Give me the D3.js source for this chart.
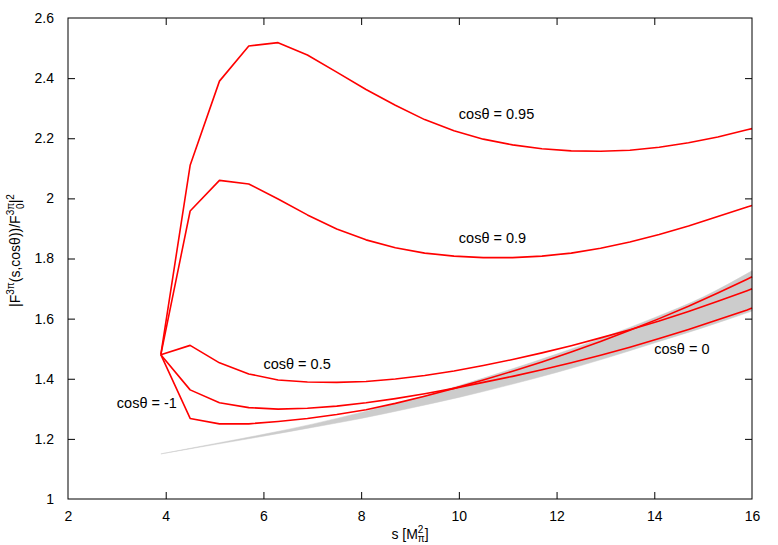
<!DOCTYPE html>
<html>
<head>
<meta charset="utf-8">
<script src="https://cdn.jsdelivr.net/npm/d3@7"></script>
<style>
  body { margin: 0; background: #fff; }
  svg { display: block; font-family: 'Liberation Sans', Arial, sans-serif; }
  .tick text { font-size: 14px; fill: #000; }
  .tick line { stroke: #000; }
  .curve-label { font-size: 14.5px; fill: #000; }
</style>
</head>
<body>
<svg width="778" height="545"></svg>
<script>
// s grid shared by all curves (in units of M_pi^2)
const sValues = [3.9, 4.5, 5.1, 5.7, 6.3, 6.9, 7.5, 8.1, 8.7, 9.3, 9.9, 10.5,
  11.1, 11.7, 12.3, 12.9, 13.5, 14.1, 14.7, 15.3, 15.9, 16];

const cos095 = [1.48, 2.11, 2.39, 2.507, 2.518, 2.477, 2.42, 2.362, 2.31, 2.262, 2.225, 2.197,
  2.178, 2.165, 2.158, 2.157, 2.160, 2.170, 2.185, 2.204, 2.228, 2.232];
const cos09 = [1.48, 1.958, 2.060, 2.048, 1.998, 1.945, 1.898, 1.862, 1.836, 1.818, 1.808, 1.803,
  1.803, 1.808, 1.818, 1.834, 1.855, 1.880, 1.908, 1.940, 1.971, 1.976];
const cos05 = [1.48, 1.511, 1.453, 1.416, 1.396, 1.389, 1.388, 1.391, 1.399, 1.411, 1.426, 1.444,
  1.464, 1.486, 1.510, 1.536, 1.563, 1.592, 1.624, 1.658, 1.693, 1.699];
const cos0 = [1.48, 1.363, 1.320, 1.304, 1.299, 1.302, 1.309, 1.320, 1.334, 1.350, 1.368, 1.388,
  1.408, 1.430, 1.453, 1.478, 1.505, 1.534, 1.564, 1.596, 1.629, 1.635];
const cosM1 = [1.48, 1.268, 1.250, 1.250, 1.258, 1.268, 1.281, 1.297, 1.318, 1.342, 1.368, 1.396,
  1.425, 1.456, 1.489, 1.524, 1.561, 1.600, 1.641, 1.685, 1.731, 1.739];

// grey error band
const bandS = [3.9, 5, 6, 7, 8, 9, 10, 11, 12, 13, 14, 15, 16];
const bandLow = [1.150, 1.181, 1.209, 1.238, 1.268, 1.302, 1.338, 1.378, 1.421, 1.468, 1.519, 1.570, 1.625];
const bandHigh = [1.150, 1.184, 1.215, 1.249, 1.288, 1.330, 1.377, 1.428, 1.482, 1.540, 1.603, 1.672, 1.759];

const labelTexts = ['cosθ = 0.95', 'cosθ = 0.9', 'cosθ = 0.5', 'cosθ = -1', 'cosθ = 0'];
const labelS = [10, 10, 6, 3, 14];
const labelV = [2.28, 1.87, 1.45, 1.32, 1.5];

const xTicks = [2, 4, 6, 8, 10, 12, 14, 16];
const yTicks = [1, 1.2, 1.4, 1.6, 1.8, 2, 2.2, 2.4, 2.6];

(function (d3) {
  'use strict';
  const svg = d3.select('svg');
  const width = +svg.attr('width');
  const height = +svg.attr('height');

  const margin = { top: 18, right: 26, bottom: 46, left: 68 };
  const innerWidth = width - margin.left - margin.right;
  const innerHeight = height - margin.top - margin.bottom;

  const xScale = d3.scaleLinear().domain([2, 16]).range([0, innerWidth]);
  const yScale = d3.scaleLinear().domain([1, 2.6]).range([innerHeight, 0]);

  const g = svg.append('g')
    .attr('transform', `translate(${margin.left},${margin.top})`);

  // band
  const band = bandS.map((s, i) => ({ s, lo: bandLow[i], hi: bandHigh[i] }));
  g.append('path')
    .datum(band)
    .attr('fill', '#cccccc')
    .attr('stroke', '#cccccc')
    .attr('stroke-width', 0.5)
    .attr('d', d3.area()
      .curve(d3.curveMonotoneX)
      .x(d => xScale(d.s))
      .y0(d => yScale(d.lo))
      .y1(d => yScale(d.hi)));

  // curves
  const series = [cos095, cos09, cos05, cos0, cosM1];
  const line = d3.line()
    .x(d => xScale(d[0]))
    .y(d => yScale(d[1]));
  g.selectAll('.curve').data(series)
    .enter().append('path')
      .attr('class', 'curve')
      .attr('fill', 'none')
      .attr('stroke', '#ff0000')
      .attr('stroke-width', 1.6)
      .attr('stroke-linejoin', 'round')
      .attr('d', vals => line(sValues.map((s, i) => [s, vals[i]])));

  // axes, ticks pointing inward on all four sides
  const fmt = d => String(+d.toFixed(1));
  const xAxisG = g.append('g')
    .attr('transform', `translate(0,${innerHeight})`)
    .call(d3.axisBottom(xScale).tickValues(xTicks).tickFormat(fmt)
      .tickSizeInner(-7).tickSizeOuter(0).tickPadding(12));
  const yAxisG = g.append('g')
    .call(d3.axisLeft(yScale).tickValues(yTicks).tickFormat(fmt)
      .tickSizeInner(-7).tickSizeOuter(0).tickPadding(14));
  const topG = g.append('g')
    .call(d3.axisTop(xScale).tickValues(xTicks).tickFormat('')
      .tickSizeInner(-7).tickSizeOuter(0));
  const rightG = g.append('g')
    .attr('transform', `translate(${innerWidth},0)`)
    .call(d3.axisRight(yScale).tickValues(yTicks).tickFormat('')
      .tickSizeInner(-7).tickSizeOuter(0));
  [xAxisG, yAxisG, topG, rightG].forEach(a => {
    a.select('.domain').remove();
    a.selectAll('text').attr('font-family', null).attr('font-size', null);
  });
  // drop ticks sitting on the corners
  xAxisG.selectAll('.tick line').filter(d => d === 2 || d === 16).remove();
  topG.selectAll('.tick line').filter(d => d === 2 || d === 16).remove();
  yAxisG.selectAll('.tick line').filter(d => d === 1 || d === 2.6).remove();
  rightG.selectAll('.tick line').filter(d => d === 1 || d === 2.6).remove();

  g.append('rect')
    .attr('width', innerWidth)
    .attr('height', innerHeight)
    .attr('fill', 'none')
    .attr('stroke', '#000')
    .attr('stroke-width', 1);

  // curve labels
  g.selectAll('.curve-label').data(labelTexts)
    .enter().append('text')
      .attr('class', 'curve-label')
      .attr('x', (d, i) => xScale(labelS[i]))
      .attr('y', (d, i) => yScale(labelV[i]))
      .attr('dy', '0.35em')
      .text(d => d);

  // x axis title: s [M^2_pi]
  const xt = svg.append('text')
    .attr('x', margin.left + innerWidth / 2)
    .attr('y', 539)
    .attr('text-anchor', 'middle')
    .attr('font-size', 14);
  xt.append('tspan').text('s [M');
  xt.append('tspan').attr('font-size', 10).attr('dy', -6).text('2');
  xt.append('tspan').attr('font-size', 10).attr('dy', 9).attr('dx', -5.6).text('π');
  xt.append('tspan').attr('dy', -3).text(']');

  // y axis title: |F^{3pi}(s,cos theta))/F^{3pi}_0|^2
  const yt = svg.append('text')
    .attr('transform', `translate(20,${margin.top + innerHeight / 2 - 8}) rotate(-90)`)
    .attr('text-anchor', 'middle')
    .attr('font-size', 14);
  yt.append('tspan').text('|F');
  yt.append('tspan').attr('font-size', 10).attr('dy', -6).text('3π');
  yt.append('tspan').attr('dy', 6).text('(s,cosθ))/F');
  yt.append('tspan').attr('font-size', 10).attr('dy', -6).text('3π');
  yt.append('tspan').attr('font-size', 10).attr('dy', 10).attr('dx', -6).text('0');
  yt.append('tspan').attr('dy', -4).text('|');
  yt.append('tspan').attr('font-size', 10).attr('dy', -6).text('2');
}(d3));
</script>
</body>
</html>
